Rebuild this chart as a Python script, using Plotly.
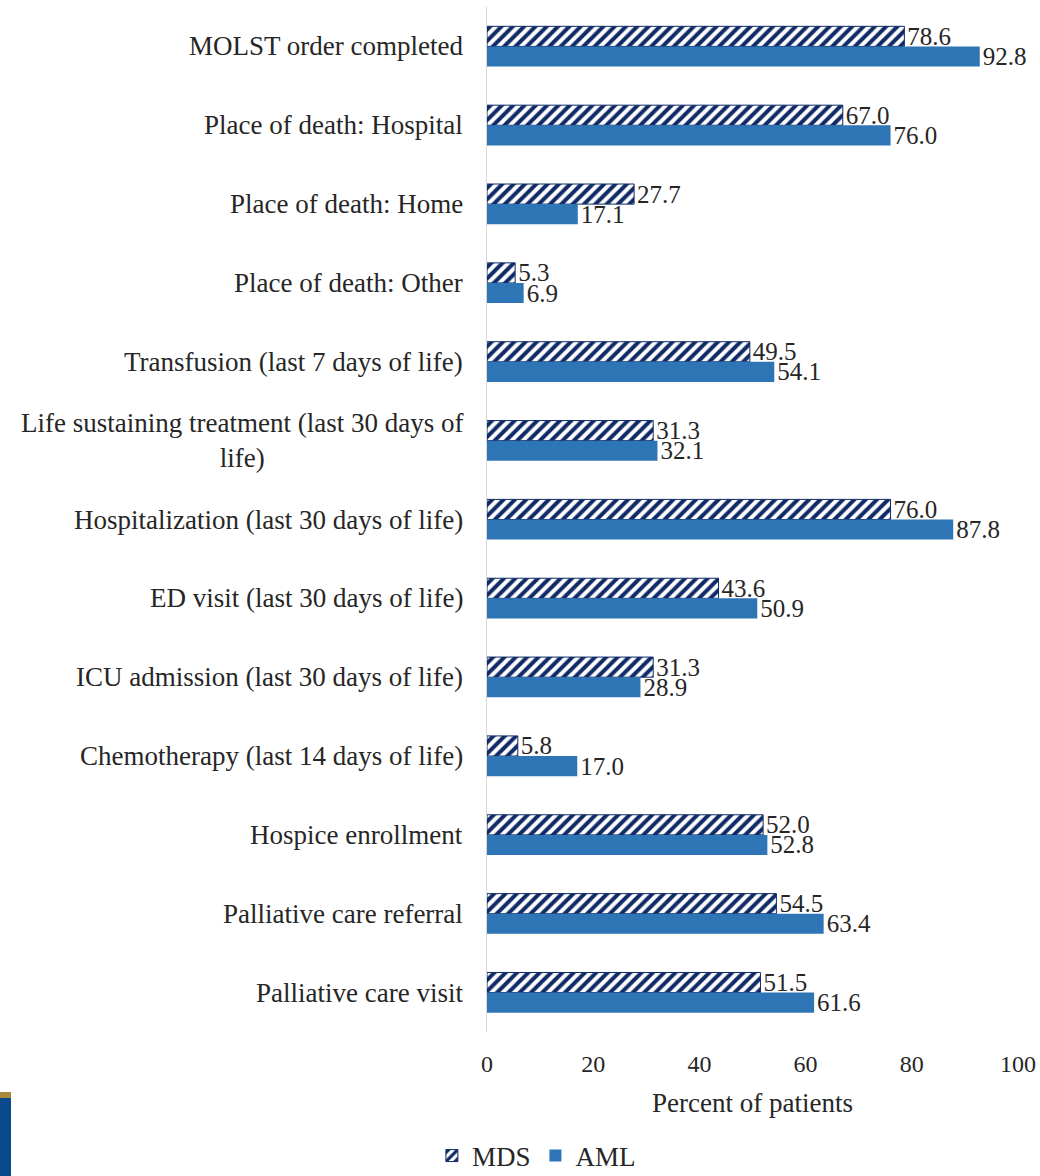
import plotly.graph_objects as go

categories = [
    "MOLST order completed",
    "Place of death: Hospital",
    "Place of death: Home",
    "Place of death: Other",
    "Transfusion (last 7 days of life)",
    "Life sustaining treatment (last 30 days of<br>life)",
    "Hospitalization (last 30 days of life)",
    "ED visit (last 30 days of life)",
    "ICU admission (last 30 days of life)",
    "Chemotherapy (last 14 days of life)",
    "Hospice enrollment",
    "Palliative care referral",
    "Palliative care visit",
]
mds = [78.6, 67.0, 27.7, 5.3, 49.5, 31.3, 76.0, 43.6, 31.3, 5.8, 52.0, 54.5, 51.5]
aml = [92.8, 76.0, 17.1, 6.9, 54.1, 32.1, 87.8, 50.9, 28.9, 17.0, 52.8, 63.4, 61.6]
x_ticks = [0, 20, 40, 60, 80, 100]

FONT = "Liberation Serif"
TEXT_COLOR = "#262626"
NAVY = "#0F2A66"
BLUE = "#2E75B6"

fig = go.Figure()
fig.add_trace(go.Bar(
    name="MDS", y=categories, x=mds, orientation="h",
    marker=dict(color="white", line=dict(color=NAVY, width=1),
                pattern=dict(shape="/", fgcolor=NAVY, bgcolor="white",
                             fgopacity=1, size=8, solidity=0.5)),
    text=[f"{v:.1f}" for v in mds], textposition="outside",
    constraintext="none",
    textfont=dict(family=FONT, size=25, color=TEXT_COLOR),
    cliponaxis=False,
))
fig.add_trace(go.Bar(
    name="AML", y=categories, x=aml, orientation="h",
    marker=dict(color=BLUE, line=dict(width=0)),
    text=[f"{v:.1f}" for v in aml], textposition="outside",
    constraintext="none",
    textfont=dict(family=FONT, size=25, color=TEXT_COLOR),
    cliponaxis=False,
))

# Category labels, right-aligned against the axis with wrapped lines centred
for cat in categories:
    fig.add_annotation(
        x=0, xref="paper", y=cat, yref="y", text=cat,
        xanchor="right", yanchor="middle", xshift=-22, align="center",
        showarrow=False, font=dict(family=FONT, size=27, color=TEXT_COLOR),
    )

# Corner of the slide background
fig.add_shape(type="rect", xref="paper", yref="paper",
              x0=-487 / 531, x1=-476 / 531, y0=-144 / 1025, y1=-66 / 1025,
              fillcolor="#0B4A8A", line=dict(width=0), layer="below")
fig.add_shape(type="rect", xref="paper", yref="paper",
              x0=-487 / 531, x1=-476 / 531, y0=-66 / 1025, y1=-60 / 1025,
              fillcolor="#A8893A", line=dict(width=0), layer="below")

fig.update_layout(
    width=1040, height=1176,
    margin=dict(l=487, r=22, t=7, b=144, autoexpand=False),
    paper_bgcolor="white", plot_bgcolor="white",
    barmode="group", bargap=0.49, bargroupgap=0,
    font=dict(family=FONT, size=24, color=TEXT_COLOR),
    showlegend=True,
    legend=dict(orientation="h", x=0.093, y=-0.121, xanchor="center",
                yanchor="middle", font=dict(family=FONT, size=27, color=TEXT_COLOR),
                itemwidth=30, traceorder="normal"),
    xaxis=dict(range=[0, 100], tickvals=x_ticks, showgrid=False, zeroline=False,
               showline=False, ticks="outside", ticklen=10, tickcolor="white",
               automargin=False,
               tickfont=dict(family=FONT, size=24, color=TEXT_COLOR),
               title=dict(text="Percent of patients", standoff=17,
                          font=dict(family=FONT, size=27, color=TEXT_COLOR))),
    yaxis=dict(autorange="reversed", showticklabels=False, showgrid=False,
               zeroline=False, showline=True, linecolor="#D9D9D9", linewidth=1,
               ticks="", automargin=False),
)

fig.write_html("out.html")
